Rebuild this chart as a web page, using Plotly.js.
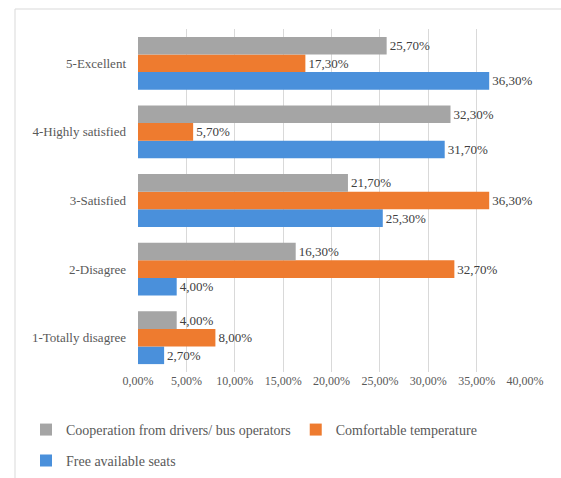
<!DOCTYPE html>
<html>
<head>
<meta charset="utf-8">
<script src="https://cdn.plot.ly/plotly-3.0.1.min.js"></script>
<style>
  html, body { margin: 0; padding: 0; background: #fff; }
  #chart { width: 561px; height: 478px; }
</style>
</head>
<body>
<div id="chart"></div>
<script>
// Satisfaction ratings, bottom category first
const categories = ['1-Totally disagree', '2-Disagree', '3-Satisfied', '4-Highly satisfied', '5-Excellent'];

// Share of respondents (%) per rating
const freeSeats   = [2.7, 4.0, 25.3, 31.7, 36.3];
const comfortTemp = [8.0, 32.7, 36.3, 5.7, 17.3];
const cooperation = [4.0, 16.3, 21.7, 32.3, 25.7];

const tickValues = [0, 5, 10, 15, 20, 25, 30, 35, 40];
const tickLabels = ['0,00%', '5,00%', '10,00%', '15,00%', '20,00%', '25,00%', '30,00%', '35,00%', '40,00%'];

const pct = v => v.toFixed(2).replace('.', ',') + '%';
const serif = 'Liberation Serif';

function barTrace(name, values, color, legend) {
  return {
    type: 'bar',
    orientation: 'h',
    name: name,
    y: categories,
    x: values,
    text: values.map(pct),
    textposition: 'outside',
    cliponaxis: false,
    textfont: { family: serif, size: 13, color: '#404040' },
    marker: { color: color },
    legend: legend,
    hoverinfo: 'x+name'
  };
}

// Plotly draws the first trace at the bottom of each group
const data = [
  barTrace('Free available seats', freeSeats, '#4a90db', 'legend2'),
  barTrace('Comfortable temperature', comfortTemp, '#ee7b2f', 'legend'),
  barTrace('Cooperation from drivers/ bus operators', cooperation, '#a5a5a5', 'legend')
];

const legendFont = { family: serif, size: 14, color: '#595959' };

const layout = {
  width: 561,
  height: 478,
  margin: { l: 138, r: 36, t: 29, b: 106, autoexpand: false },
  paper_bgcolor: '#ffffff',
  plot_bgcolor: '#ffffff',
  barmode: 'group',
  bargap: 0.23,
  bargroupgap: 0,
  font: { family: serif, color: '#595959' },
  xaxis: {
    range: [0, 40],
    tickvals: tickValues,
    ticktext: tickLabels,
    tickangle: 0,
    showgrid: true,
    gridcolor: '#d9d9d9',
    gridwidth: 1,
    zeroline: false,
    showline: false,
    ticks: '',
    tickfont: { family: serif, size: 12, color: '#595959' },
    automargin: false,
    fixedrange: true
  },
  yaxis: {
    showgrid: false,
    zeroline: false,
    showline: false,
    ticks: '',
    ticklabelstandoff: 11,
    automargin: false,
    tickfont: { family: serif, size: 13, color: '#595959' },
    fixedrange: true
  },
  legend: {
    orientation: 'h',
    traceorder: 'reversed',
    x: -112 / 387, xanchor: 'left',
    y: -0.169, yanchor: 'middle',
    itemwidth: 30,
    font: legendFont,
    bgcolor: 'rgba(0,0,0,0)'
  },
  legend2: {
    orientation: 'h',
    x: -112 / 387, xanchor: 'left',
    y: -0.259, yanchor: 'middle',
    itemwidth: 30,
    font: legendFont,
    bgcolor: 'rgba(0,0,0,0)'
  },
  shapes: [{
    type: 'rect',
    xref: 'paper', yref: 'paper',
    x0: -123 / 387, x1: 600 / 387,
    y0: -500 / 343, y1: 1 + 20 / 343,
    line: { color: '#d9d9d9', width: 1 },
    fillcolor: 'rgba(0,0,0,0)',
    layer: 'below'
  }],
  showlegend: true
};

Plotly.newPlot('chart', data, layout, { displayModeBar: false, staticPlot: true });
</script>
</body>
</html>
